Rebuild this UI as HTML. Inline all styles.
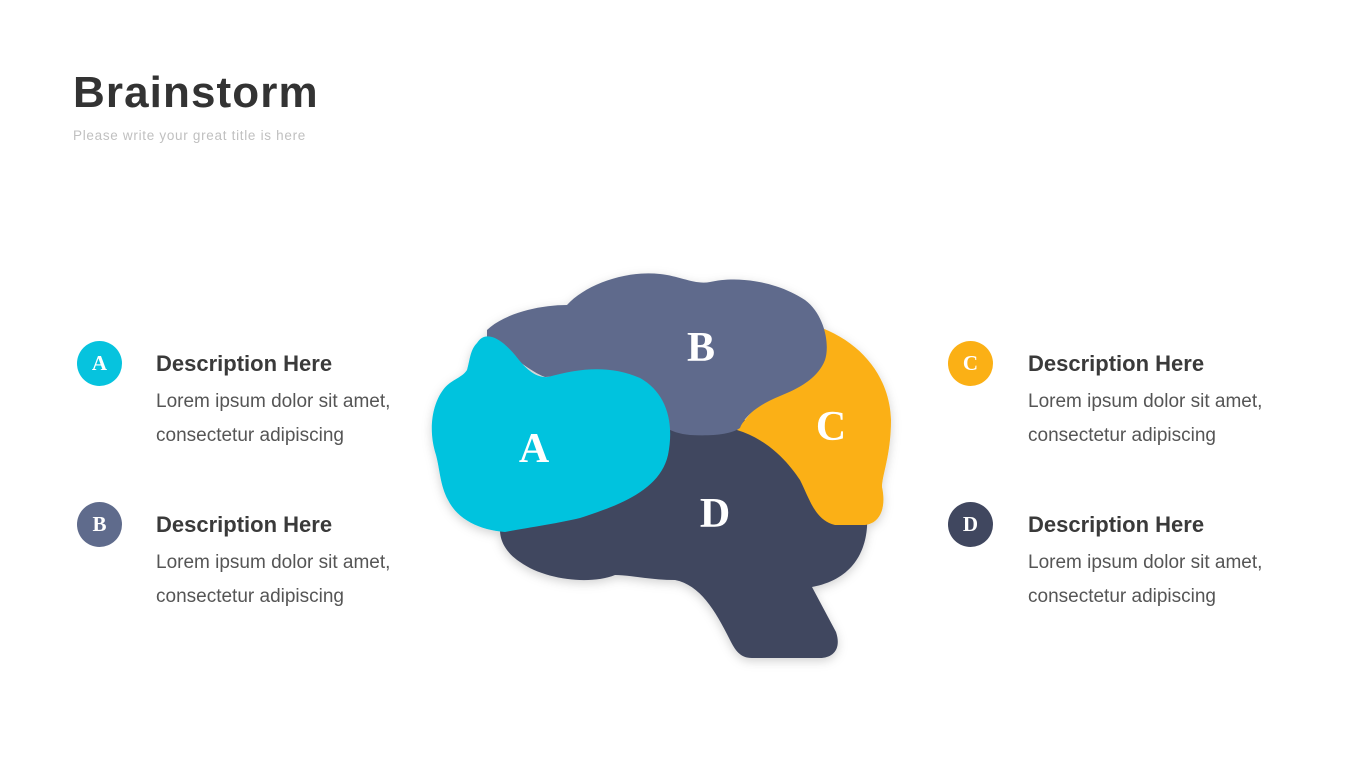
<!DOCTYPE html>
<html><head><meta charset="utf-8"><style>
body{margin:0;width:1365px;height:768px;background:#fff;position:relative;overflow:hidden;font-family:"Liberation Sans",sans-serif}
.t{position:absolute;left:73px;top:68px;font-size:44px;font-weight:bold;color:#333;letter-spacing:1.1px}
.s{position:absolute;left:73px;top:128px;font-size:13.5px;color:#c0c0c0;letter-spacing:0.7px}
.c{position:absolute;width:45px;height:45px;border-radius:50%;color:#fff;font-family:"Liberation Serif",serif;font-weight:bold;font-size:21px;text-align:center;line-height:45px}
.h{position:absolute;font-size:22px;font-weight:bold;color:#3a3a3a}
.b{position:absolute;font-size:19px;color:#555;line-height:34px}
</style></head><body>
<div class="t">Brainstorm</div>
<div class="s">Please write your great title is here</div>

<div class="c" style="left:77px;top:341px;background:#06c3de">A</div>
<div class="h" style="left:156px;top:351px">Description Here</div>
<div class="b" style="left:156px;top:385px">Lorem ipsum dolor sit amet,<br>consectetur adipiscing</div>
<div class="c" style="left:77px;top:502px;background:#5f6b8c">B</div>
<div class="h" style="left:156px;top:512px">Description Here</div>
<div class="b" style="left:156px;top:546px">Lorem ipsum dolor sit amet,<br>consectetur adipiscing</div>
<div class="c" style="left:948px;top:341px;background:#fbb015">C</div>
<div class="h" style="left:1028px;top:351px">Description Here</div>
<div class="b" style="left:1028px;top:385px">Lorem ipsum dolor sit amet,<br>consectetur adipiscing</div>
<div class="c" style="left:948px;top:502px;background:#40475f">D</div>
<div class="h" style="left:1028px;top:512px">Description Here</div>
<div class="b" style="left:1028px;top:546px">Lorem ipsum dolor sit amet,<br>consectetur adipiscing</div>

<svg width="1365" height="768" style="position:absolute;left:0;top:0">
<defs><filter id="sh" x="-20%" y="-20%" width="140%" height="140%"><feDropShadow dx="0" dy="3" stdDeviation="5" flood-color="#000" flood-opacity="0.18"/></filter></defs>
<g filter="url(#sh)">
<path fill="#40475f" d="M500,530 C495,500 560,430 660,420 L780,420 C830,440 870,480 867,527 C865,555 850,580 812,587 L836,632 C842,650 832,658 820,658 L752,658 C740,658 735,650 730,640 C715,610 700,585 675,580 C650,580 630,575 615,575 C590,585 545,580 520,562 C505,552 500,540 500,530 Z"/>
<path fill="#fbb015" d="M737,430 C760,400 800,360 822,328 C865,345 890,380 891,420 C891,455 882,475 882,487 C886,505 882,523 865,525 L835,525 C815,520 810,500 800,480 C790,465 770,440 737,430 Z"/>
<path fill="#5f6b8c" d="M487,330 C505,313 540,305 567,305 C585,285 625,270 660,274 C680,276 695,285 710,282 C735,276 775,280 805,300 C825,315 830,345 825,360 C818,378 800,388 780,396 C760,404 745,415 740,428 C730,435 710,436 690,435 C670,433 655,425 640,400 C620,380 565,375 545,377 C530,372 505,350 487,338 Z"/>
<path fill="#06c3de" d="M477,343 C485,330 500,337 515,355 C525,368 535,378 548,377 C580,368 610,365 640,378 C665,392 675,420 668,455 C660,490 620,505 580,518 C555,524 525,528 505,532 C480,530 458,520 448,500 C440,485 440,470 436,455 C428,430 432,405 443,390 C450,380 462,378 467,370 C470,360 470,350 477,343 Z"/>
</g>
<g font-family="Liberation Serif,serif" font-weight="bold" font-size="42" fill="#fff" text-anchor="middle">
<text x="534" y="462">A</text>
<text x="701" y="361">B</text>
<text x="831" y="440">C</text>
<text x="715" y="527">D</text>
</g>
</svg>
</body></html>
